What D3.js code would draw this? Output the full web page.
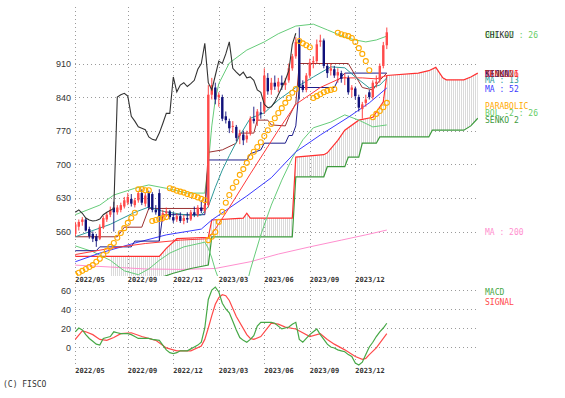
<!DOCTYPE html>
<html>
<head>
<meta charset="utf-8">
<script src="https://cdn.jsdelivr.net/npm/d3@7"></script>
<style>
  body { margin: 0; background: #fff; }
</style>
</head>
<body>
<div id="chart"></div>
<script>
// weekly candles, index 0 = last week of 2022/05
var opens  = [555,570,580,585,565,555,550,545,568,585,595,610,600,605,612,620,628,615,625,640,618,640,638,605,640,590,598,602,590,585,592,582,588,585,600,595,610,603,615,845,860,840,840,800,790,778,778,760,762,752,765,795,790,808,810,880,855,870,862,870,865,875,900,925,960,865,855,885,912,915,955,958,905,895,898,885,890,880,880,855,858,840,815,828,850,840,868,875,905,948];
var highs  = [580,585,590,588,570,560,555,575,592,600,612,622,615,620,632,640,638,630,645,648,640,645,642,615,648,605,610,605,600,598,600,595,600,605,612,615,625,622,865,880,870,850,845,810,795,790,782,772,770,770,800,820,815,830,900,890,880,885,880,885,880,910,930,965,985,875,890,920,925,960,970,962,910,910,905,900,895,890,885,865,862,845,830,845,855,875,885,910,955,985];
var lows   = [550,562,572,560,545,538,528,542,565,580,590,560,595,600,608,615,612,610,620,615,612,605,600,595,540,580,590,585,578,580,578,575,578,582,590,590,598,598,610,835,825,820,790,785,765,765,748,742,740,745,760,785,780,795,805,845,845,855,850,855,855,870,895,920,835,850,850,880,900,910,945,900,880,885,880,870,870,865,845,840,835,810,795,820,835,835,860,870,900,940];
var closes = [575,580,585,562,550,545,540,570,588,595,605,600,610,615,625,632,618,625,640,620,635,610,605,600,590,598,602,590,583,592,582,588,585,600,595,610,603,615,845,865,835,845,795,792,775,780,755,765,750,760,795,790,810,805,885,852,870,862,872,865,870,900,925,955,860,855,885,912,915,950,958,905,890,900,885,892,878,882,850,860,842,818,825,835,840,870,872,905,948,975];

var tickIdx    = [0, 15, 28, 41, 54, 67, 80];
var tickLabels = ["2022/05", "2022/09", "2022/12", "2023/03", "2023/06", "2023/09", "2023/12"];
var priceTicks = [910, 840, 770, 700, 630, 560];
var macdTicks  = [60, 40, 20, 0];

// chikou span, index 0..63
var chikou = [600,605,598,588,584,582,583,586,595,600,604,608,840,845,848,842,800,790,778,775,772,757,752,750,765,785,806,806,882,851,865,870,862,868,875,898,910,952,870,855,885,915,910,930,955,900,892,885,892,880,882,875,855,850,825,818,820,830,845,860,875,895,950,973];

// [week index, value]
var ma13 = [[0,549],[10,575],[17,600],[21,611],[25,602],[32,594],[36,594],[38,612],[40,652],[42,688],[44,718],[47,760],[50,796],[54,807],[58,834],[63,860],[68,882],[73,903],[77,901],[80,882],[84,859],[87,865],[89,880]];
var ma26 = [[0,512],[10,525],[20,535],[30,542],[38,545],[40,565],[44,610],[50,680],[58,771],[63,825],[70,860],[76,880],[82,880],[86,878],[89,885]];
var ma52 = [[0,497],[7,515],[17,536],[26,553],[36,565],[39,584],[49,634],[56,672],[63,726],[70,761],[78,798],[84,828],[89,859]];
var ma200 = [[0,490],[10,486],[20,482],[30,481],[40,483],[50,497],[58,513],[67,528],[76,542],[83,553],[89,563]];
var bolUp = [[0,595],[7,615],[11,636],[17,650],[21,657],[26,650],[32,640],[37,640],[38,700],[39,780],[40,835],[41,868],[44,911],[49,938],[54,955],[58,972],[63,988],[68,992],[72,980],[77,965],[80,959],[83,955],[86,959],[89,967]];
var bolDn = [[0,530],[5,518],[10,500],[14,478],[18,470],[21,482],[24,500],[27,515],[31,528],[36,536],[37,538],[38,525],[39,505],[40,480],[42,440],[45,400],[48,420],[50,480],[53,553],[56,615],[59,667],[62,713],[65,751],[68,776],[73,788],[77,803],[81,792],[85,778],[89,782]];
var tenkan = [[0,549],[12,549],[14,569],[19,569],[21,608],[37,608],[38,725],[42,730],[46,744],[47,765],[51,765],[52,792],[55,792],[56,782],[60,780],[61,798],[63,827],[64,910],[78,910],[80,885],[82,860],[85,855],[87,875],[89,890]];
var kijun = [[0,520],[6,520],[7,528],[16,528],[17,540],[24,540],[25,595],[37,595],[38,709],[49,709],[50,722],[53,730],[54,744],[60,744],[61,760],[62,760],[63,780],[64,860],[74,860],[75,875],[77,890],[89,890]];
var senko1 = [[0,508],[10,508],[24,508],[26,525],[29,545],[38,548],[39,584],[48,588],[49,598],[50,588],[62,588],[63,715],[71,720],[72,724],[75,750],[77,771],[81,792],[85,798],[88,830],[89,885],[98,890],[101,895],[103,902],[105,880],[106,876],[111,876],[113,882],[115,890]];
var senko2 = [[10,440],[20,455],[24,463],[28,473],[33,483],[38,490],[39,549],[62,549],[63,674],[71,674],[72,695],[77,695],[78,715],[81,715],[82,744],[86,744],[87,757],[101,757],[102,771],[111,771],[113,780],[115,796]];
var sar = [[0,469],[1,474],[2,478],[3,482],[4,486],[5,490],[6,497],[7,503],[8,511],[9,520],[10,528],[11,536],[12,547],[13,557],[14,567],[15,578],[16,588],[17,599],[18,648],[19,648],[20,646],[21,646],[22,582],[23,584],[24,586],[25,588],[26,590],[27,650],[28,648],[29,645],[30,643],[31,641],[32,638],[33,636],[34,634],[35,631],[36,628],[37,625],[38,542],[39,549],[40,559],[41,580],[42,601],[43,620],[44,636],[45,651],[46,663],[47,678],[48,690],[49,703],[50,715],[51,726],[52,736],[53,746],[54,759],[55,771],[56,784],[57,796],[58,807],[59,817],[60,828],[61,838],[62,849],[63,857],[64,957],[65,952],[66,948],[67,944],[68,838],[69,842],[70,846],[71,850],[72,853],[73,855],[74,857],[75,974],[76,971],[77,969],[78,967],[79,963],[80,955],[81,942],[82,930],[83,915],[84,896],[85,798],[86,805],[87,811],[88,819],[89,828]];

var macd = [[0,16],[1,20],[2,18],[3,13],[4,9],[5,6],[6,3],[7,2],[8,9],[9,10],[10,11],[11,16],[12,15],[13,14],[15,14],[16,13],[17,11],[18,9],[21,9],[22,8],[24,7],[25,2],[26,-3],[27,-6],[28,-7],[29,-6],[30,-4],[32,-4],[33,-2],[34,0],[35,2],[36,5],[37,20],[38,50],[39,60],[40,63],[41,58],[42,46],[43,40],[44,36],[45,27],[46,18],[47,10],[48,7],[49,5],[50,8],[51,12],[52,22],[53,26],[56,26],[57,25],[58,22],[59,19],[60,20],[61,21],[62,24],[63,26],[64,8],[65,5],[66,9],[67,13],[68,16],[69,19],[70,13],[71,8],[72,3],[73,0],[74,-1],[75,-3],[76,-4],[77,-5],[78,-8],[79,-10],[80,-17],[81,-19],[82,-16],[83,-8],[84,0],[85,5],[86,11],[87,16],[88,20],[89,25]];
var signal = [[0,8],[2,17],[3,16],[5,13],[7,8],[9,7],[11,10],[13,14],[16,15],[19,11],[23,7],[26,-1],[29,-4],[33,-4],[36,1],[37,8],[38,20],[39,33],[40,45],[41,52],[42,55],[43,54],[44,49],[46,32],[49,13],[50,9],[51,8],[53,11],[56,25],[58,24],[60,21],[63,19],[67,11],[70,14],[72,8],[74,3],[77,-3],[80,-10],[82,-13],[83,-12],[84,-8],[86,-1],[89,14]];

var W = 565, H = 398;
var svg = d3.select("#chart").append("svg")
  .attr("width", W)
  .attr("height", H)
  .style("font-family", "'DejaVu Sans Mono', monospace");

var x = d3.scaleLinear().domain([0, 115]).range([75.3, 477.8]);
var y = d3.scaleLinear().domain([910, 560]).range([63.5, 231.5]);
var yM = d3.scaleLinear().domain([0, 60]).range([347, 290]);

var left = 75, right = 478;
var pTop = 7, pBot = 276, mTop = 283, mBot = 367;

var defs = svg.append("defs");
defs.append("clipPath").attr("id", "clipP").append("rect")
  .attr("x", left).attr("y", pTop).attr("width", right - left).attr("height", pBot - pTop);
defs.append("clipPath").attr("id", "clipM").append("rect")
  .attr("x", left).attr("y", mTop).attr("width", right - left).attr("height", mBot - mTop);
var hatch = defs.append("pattern").attr("id", "hatch")
  .attr("patternUnits", "userSpaceOnUse").attr("x", left).attr("width", 2).attr("height", 4);
hatch.append("rect").attr("width", 1).attr("height", 4).attr("fill", "#dadada");

// grid
var grid = svg.append("g").attr("stroke", "#9a9a9a").attr("stroke-dasharray", "1,3").attr("fill", "none");
grid.selectAll(".hp").data(priceTicks).join("line")
  .attr("x1", left).attr("x2", right)
  .attr("y1", d => Math.round(y(d)) + 0.5).attr("y2", d => Math.round(y(d)) + 0.5);
grid.selectAll(".hm").data(macdTicks).join("line")
  .attr("x1", left).attr("x2", right)
  .attr("y1", d => Math.round(yM(d)) + 0.5).attr("y2", d => Math.round(yM(d)) + 0.5);
grid.selectAll(".vp").data(tickIdx).join("line")
  .attr("x1", d => Math.round(x(d)) + 0.5).attr("x2", d => Math.round(x(d)) + 0.5)
  .attr("y1", pTop).attr("y2", pBot - 2);
grid.selectAll(".vm").data(tickIdx).join("line")
  .attr("x1", d => Math.round(x(d)) + 0.5).attr("x2", d => Math.round(x(d)) + 0.5)
  .attr("y1", mTop).attr("y2", mBot);

// axis labels
var lab = svg.append("g").attr("fill", "#333");
lab.selectAll(".yp").data(priceTicks).join("text")
  .attr("x", 71).attr("y", d => y(d) + 3.5)
  .attr("text-anchor", "end")
  .style("font-family", "'Liberation Sans', Arial, sans-serif").style("font-size", "9px")
  .text(d => d);
lab.selectAll(".ym").data(macdTicks).join("text")
  .attr("x", 71).attr("y", d => yM(d) + 3.5)
  .attr("text-anchor", "end")
  .style("font-family", "'Liberation Sans', Arial, sans-serif").style("font-size", "9px")
  .text(d => d);
[282, 373].forEach(function(ty) {
  lab.selectAll(".xl" + ty).data(tickIdx).join("text")
    .attr("x", d => x(d)).attr("y", ty)
    .style("font-size", "7px").style("font-weight", "bold")
    .text((d, i) => tickLabels[i]);
});

// price panel
var gp = svg.append("g").attr("clip-path", "url(#clipP)");
var line = d3.line().x(d => x(d[0])).y(d => y(d[1]));

// kumo (hatched band between senko lines)
var cloud = senko1.filter(d => d[0] >= 10).concat(senko2.slice().reverse());
gp.append("path").attr("d", line(cloud) + "Z").attr("fill", "url(#hatch)");

function drawLine(data, color, w) {
  gp.append("path").attr("d", line(data))
    .attr("fill", "none").attr("stroke", color).attr("stroke-width", w || 1);
}
drawLine(ma200, "#ff8fcf");
drawLine(senko2, "#3c9a3c", 1.2);
drawLine(senko1, "#ff3030", 1.2);
drawLine(bolUp, "#66cc7a");
drawLine(bolDn, "#66cc7a");
drawLine(ma52, "#3a3aff");
drawLine(kijun, "#1e1e8c");
drawLine(tenkan, "#9a3030");
drawLine(ma26, "#ff3a3a");
drawLine(ma13, "#2f9a9a");

// candles
var idx = d3.range(closes.length);
var up = i => closes[i] >= opens[i];
gp.append("g").selectAll("line").data(idx).join("line")
  .attr("x1", i => x(i)).attr("x2", i => x(i))
  .attr("y1", i => y(highs[i])).attr("y2", i => y(lows[i]))
  .attr("stroke", i => up(i) ? "#ff3030" : "#10107a").attr("stroke-width", 0.9);
gp.append("g").selectAll("rect").data(idx).join("rect")
  .attr("x", i => x(i) - 1.2).attr("width", 2.4)
  .attr("y", i => y(Math.max(opens[i], closes[i])))
  .attr("height", i => Math.max(1, Math.abs(y(opens[i]) - y(closes[i]))))
  .attr("fill", i => up(i) ? "#ff4a4a" : "#10107a");

// chikou
gp.append("path").attr("d", line(chikou.map((v, i) => [i, v])))
  .attr("fill", "none").attr("stroke", "#333").attr("stroke-width", 1.1);

// parabolic
gp.append("g").selectAll("circle").data(sar).join("circle")
  .attr("cx", d => x(d[0])).attr("cy", d => y(d[1])).attr("r", 2.5)
  .attr("fill", "none").attr("stroke", "#ffaa00").attr("stroke-width", 1.1);

// macd panel
var gm = svg.append("g").attr("clip-path", "url(#clipM)");
var lineM = d3.line().x(d => x(d[0])).y(d => yM(d[1]));
gm.append("path").attr("d", lineM(signal)).attr("fill", "none").attr("stroke", "#ff4a4a").attr("stroke-width", 1.2);
gm.append("path").attr("d", lineM(macd)).attr("fill", "none").attr("stroke", "#46a846").attr("stroke-width", 1.2);

// legend (labels overlap on purpose, as in the source chart)
var leg = svg.append("g").style("font-size", "8px");
function legend(t, ty, color, lx) {
  leg.append("text").attr("x", lx || 485).attr("y", ty).attr("fill", color).text(t);
}
legend("BOL +2 : 26", 38, "#66cc66");
legend("CHIKOU", 38, "#333");
legend("MA : 13", 83, "#2f9a9a");
legend("MA : 26", 77, "#ff3a3a");
legend("SENKO 1", 77, "#ff3030");
legend("KIJUN", 77, "#1e1e8c");
legend("TENKAN", 77, "#9a3030");
legend("MA : 52", 92, "#3a3aff");
legend("PARABOLIC", 109, "#ffaa00");
legend("BOL -2 : 26", 116, "#66cc66");
legend("SENKO 2", 123, "#3c9a3c");
legend("MA : 200", 235, "#ff8fcf");
legend("MACD", 295, "#46a846");
legend("SIGNAL", 305, "#ff4a4a");
legend("(C) FISCO", 387, "#333", 3);
</script>
</body>
</html>
